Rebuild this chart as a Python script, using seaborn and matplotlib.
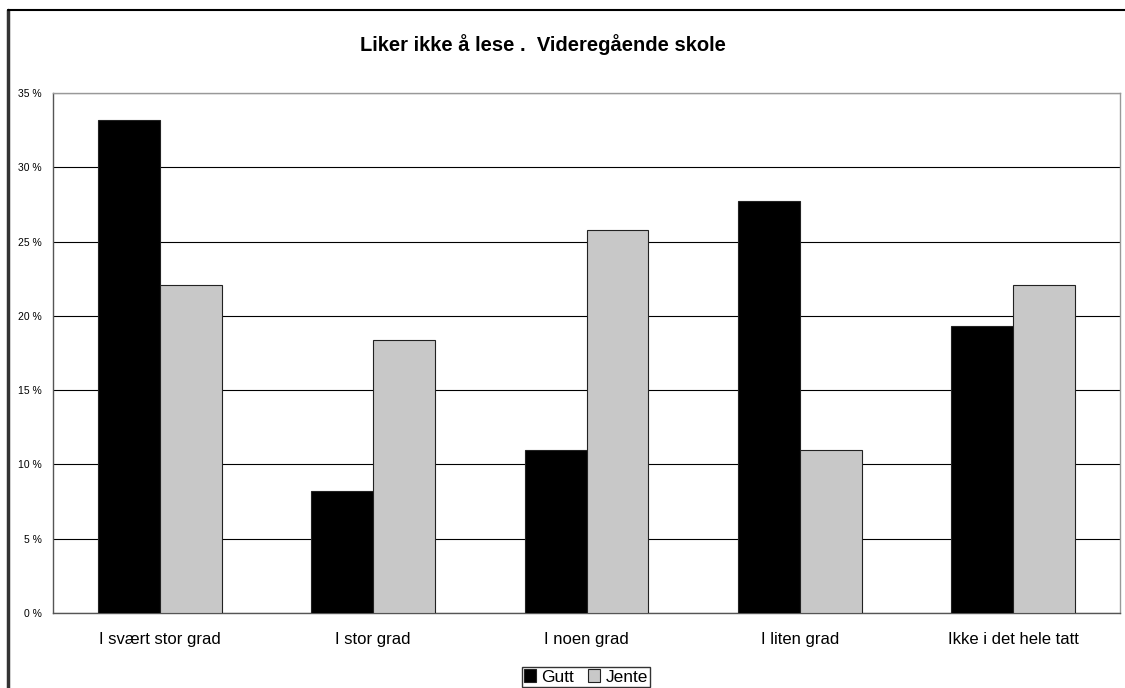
import seaborn as sns
import pandas as pd
import matplotlib.pyplot as plt
import matplotlib.ticker as ticker
from matplotlib.lines import Line2D
from matplotlib.patches import Patch

categories=['I svært stor grad','I stor grad','I noen grad','I liten grad','Ikke i det hele tatt']
gutt=[33.2,8.2,11.0,27.7,19.3]
jente=[22.1,18.4,25.8,11.0,22.1]
groups=['Gutt','Jente']
colors=['#000000','#c8c8c8']

df=pd.DataFrame({'kat':categories*2,
                 'kjonn':['Gutt']*5+['Jente']*5,
                 'pst':gutt+jente})

sns.set_style('white')
plt.rcParams['font.family']=['Liberation Sans','DejaVu Sans']
plt.rcParams['text.color']='black'
plt.rcParams['xtick.labelcolor']='black'
plt.rcParams['ytick.labelcolor']='black'

fig=plt.figure(figsize=(11.25,6.88),dpi=100)
ax=fig.add_axes([53/1125,1-613/688,(1120-53)/1125,(613-93)/688])

sns.barplot(data=df,x='kat',y='pst',hue='kjonn',order=categories,hue_order=groups,
            palette=colors,width=0.58,gap=0,edgecolor='#222222',linewidth=0.8,
            legend=False,ax=ax,zorder=3)

ax.set_ylim(0,35)
ax.set_xlim(-0.5,4.5)
ax.yaxis.set_major_locator(ticker.MultipleLocator(5))
ax.yaxis.set_major_formatter(ticker.FuncFormatter(lambda v,p:'%d %%'%round(v)))
ax.grid(axis='y',color='black',linewidth=0.8,zorder=0)
ax.set_axisbelow(True)
ax.set_xlabel('')
ax.set_ylabel('')
ax.set_xticks([i+0.5 for i in range(-1,5)],minor=True)
ax.tick_params(axis='x',which='major',length=0,labelsize=12,pad=14,labelcolor='black')
ax.tick_params(axis='x',which='minor',length=5,direction='out',color='#555555',width=1)
ax.tick_params(axis='y',length=5,direction='out',labelsize=7.5,color='#555555',width=1,pad=3,labelcolor='black')
for sp in ax.spines.values():
    sp.set_color('#999999')
    sp.set_linewidth(1)
ax.spines['left'].set_color('#555555')
ax.spines['bottom'].set_color('#555555')

fig.text(543/1125,1-45/688,'Liker ikke å lese .  Videregående skole',ha='center',va='center',
         fontsize=14.5,fontweight='bold',color='black')

handles=[Patch(facecolor=c,edgecolor='#222222',linewidth=0.8) for c in colors]
leg=fig.legend(handles,groups,loc='center',bbox_to_anchor=(586/1125,1-677/688),ncol=2,
           frameon=True,fancybox=False,edgecolor='black',fontsize=12.5,
           handlelength=0.7,handleheight=0.7,handletextpad=0.3,columnspacing=0.8,
           borderpad=0.15,borderaxespad=0)
for t in leg.get_texts():
    t.set_color('black')

# outer frame of the chart
fig.add_artist(Line2D([8/1125,8/1125],[0,1-10/688],transform=fig.transFigure,color='#333333',linewidth=2.5))
fig.add_artist(Line2D([8/1125,1],[1-10/688,1-10/688],transform=fig.transFigure,color='black',linewidth=1.5))

fig.savefig('out.png',dpi=100)
